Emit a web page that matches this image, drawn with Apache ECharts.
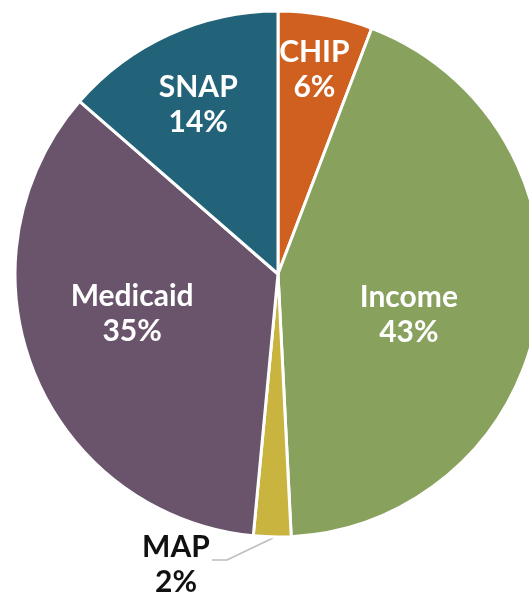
<!DOCTYPE html>
<html>
<head>
<meta charset="utf-8">
<script src="https://cdn.jsdelivr.net/npm/echarts@6/dist/echarts.min.js"></script>
<style>
  html, body { margin: 0; padding: 0; background: #fff; }
  #chart { width: 529px; height: 594px; }
</style>
</head>
<body>
<div id="chart"></div>
<script>
// data, clockwise from 12 o'clock (slice sizes, labels rounded)
var categories = ['CHIP', 'Income', 'MAP', 'Medicaid', 'SNAP'];
var shares = [5.8, 43.4, 2.3, 34.9, 13.6];
var colors = ['#D0601F', '#88A15D', '#C9B43F', '#69546B', '#23637A'];
// nudges for the inside labels
var labelOffsets = [[12, -72], [-2, 20], null, [-21, -10], [-24, -47]];

var chart = echarts.init(document.getElementById('chart'));

var pieData = categories.map(function (name, i) {
  var item = {
    name: name,
    value: shares[i],
    itemStyle: { color: colors[i] }
  };
  if (labelOffsets[i]) {
    item.label = { position: 'inside', offset: labelOffsets[i] };
    item.labelLine = { show: false };
  } else {
    item.label = { position: 'outside', color: '#111' };
    item.labelLine = { show: true, lineStyle: { color: '#bdbdbd', width: 1.5 } };
  }
  return item;
});

chart.setOption({
  animation: false,
  series: [{
    type: 'pie',
    center: [278, 274],
    radius: 263,
    startAngle: 90,
    clockwise: true,
    data: pieData,
    itemStyle: { borderColor: '#fff', borderWidth: 3 },
    label: {
      formatter: function (p) { return p.name + '\n' + Math.round(p.value) + '%'; },
      color: '#fff',
      fontFamily: 'Lato',
      fontWeight: 'bold',
      fontSize: 30,
      lineHeight: 35,
      align: 'center'
    },
    labelLayout: function (params) {
      if (params.dataIndex !== 2) return {};
      return {
        x: 176, y: 565,
        align: 'center', verticalAlign: 'middle',
        labelLinePoints: [[273, 538], [227, 560], [212, 560]]
      };
    }
  }]
});
</script>
</body>
</html>
